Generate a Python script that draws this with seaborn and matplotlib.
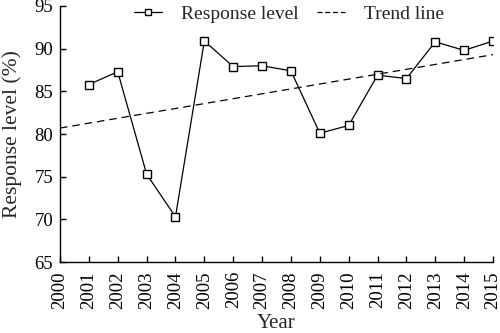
import matplotlib
matplotlib.use("Agg")
import matplotlib.pyplot as plt
import seaborn as sns
import pandas as pd

years = [2001, 2002, 2003, 2004, 2005, 2006, 2007, 2008, 2009, 2010, 2011, 2012, 2013, 2014, 2015]
response = [85.8, 87.3, 75.3, 70.3, 90.9, 87.9, 88.0, 87.4, 80.1, 81.0, 86.9, 86.5, 90.8, 89.8, 90.9]
trend_years = [2000, 2015]
trend_vals = [80.7, 89.3]
xticks = list(range(2000, 2016))
yticks = [65, 70, 75, 80, 85, 90, 95]

sns.set_style("ticks")
plt.rcParams['font.family'] = ['Liberation Serif', 'DejaVu Serif']

df = pd.DataFrame({"Year": years, "Response": response})
dft = pd.DataFrame({"Year": trend_years, "Trend": trend_vals})

fig = plt.figure(figsize=(5, 3.33), dpi=100)
ax = fig.add_axes([0.12, 0.213, 0.866, 0.769])

sns.lineplot(data=df, x="Year", y="Response", ax=ax, color="black", linewidth=0.9,
             marker="s", markersize=5.3, markerfacecolor="white", markeredgecolor="black",
             markeredgewidth=1.0, label="Response level")
sns.lineplot(data=dft, x="Year", y="Trend", ax=ax, color="black", linewidth=0.9,
             linestyle=(0, (6, 4)), label="Trend line")

ax.set_xlim(2000, 2015)
ax.set_ylim(65, 95)
ax.set_xticks(xticks)
ax.set_xticklabels([str(x) for x in xticks], rotation=90)
ax.set_yticks(yticks)
ax.tick_params(direction="in", length=4, width=1, labelsize=13.5, colors="black")
ax.tick_params(axis="x", pad=6.5)
ax.tick_params(axis="y", pad=5)
ax.set_xlabel("Year", fontsize=15, labelpad=4)
ax.set_ylabel("Response level (%)", fontsize=15.5, labelpad=9)
for s in ["top", "right"]:
    ax.spines[s].set_visible(False)
for s in ["left", "bottom"]:
    ax.spines[s].set_linewidth(1.0)
    ax.spines[s].set_color("black")

leg = ax.legend(loc="center", bbox_to_anchor=(0.578, 0.958), bbox_transform=fig.transFigure,
                ncol=2, frameon=False, fontsize=14, handlelength=1.45, columnspacing=0.9,
                handletextpad=1.0, markerscale=0.75)
for h in leg.get_lines():
    if h.get_linestyle() != '-':
        h.set_dashes((4, 2.2))

fig.savefig("out.png", dpi=100)
